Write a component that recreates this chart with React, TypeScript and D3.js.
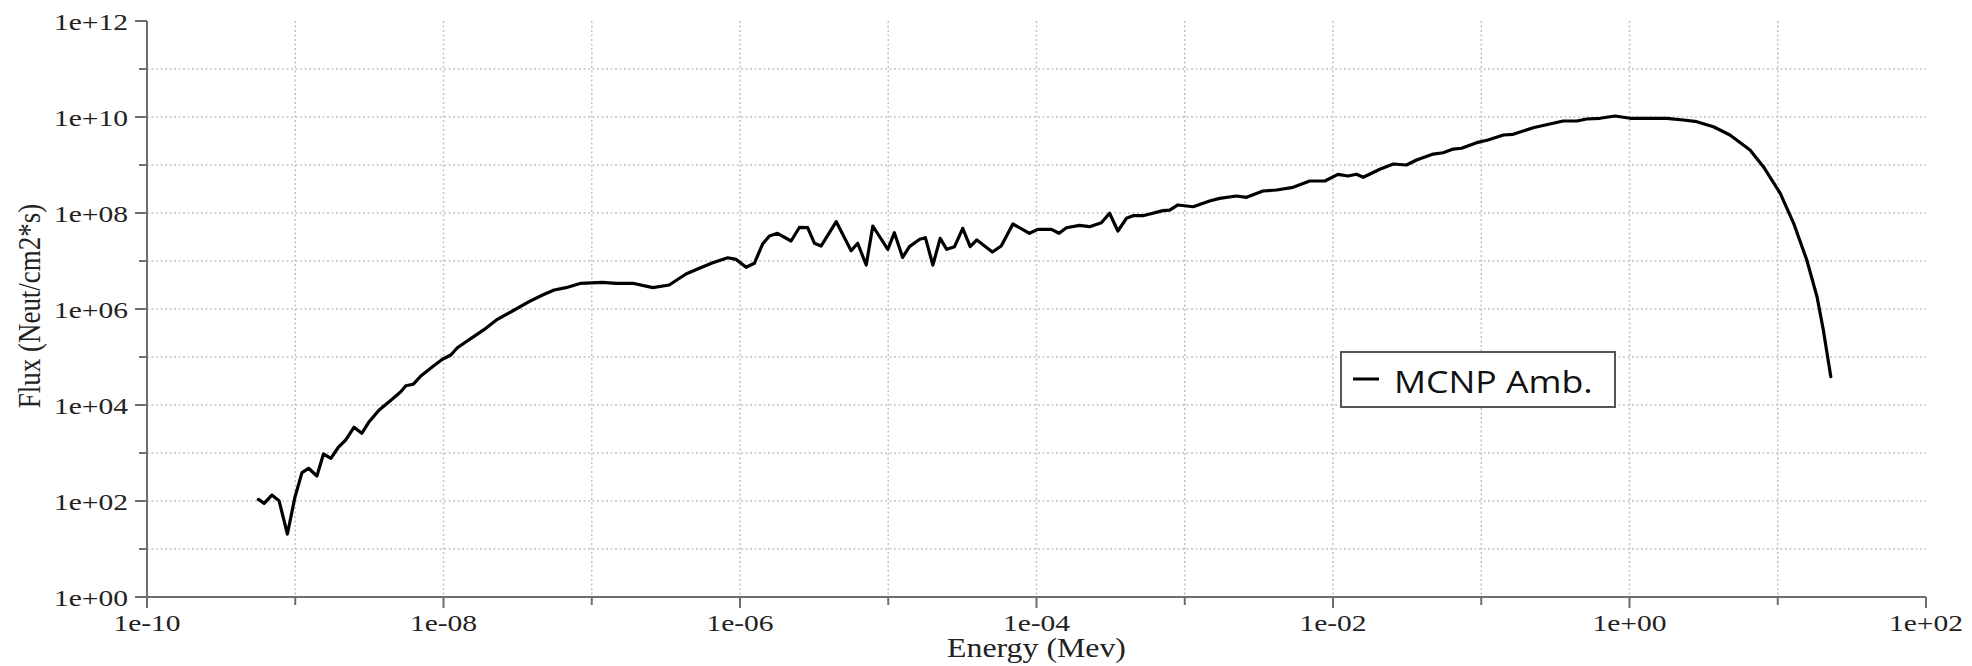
import React from "react";
import * as d3 from "d3";

// ---- data ----
const energy: number[] = [
  5.64e-10, 6.17e-10, 6.95e-10, 7.78e-10, 8.85e-10, 9.97e-10, 1.11e-9, 1.23e-9, 1.4e-9, 1.55e-9,
  1.74e-9, 1.95e-9, 2.19e-9, 2.49e-9, 2.81e-9, 3.15e-9, 3.68e-9, 4.3e-9, 5.15e-9, 5.57e-9,
  6.24e-9, 7.03e-9, 8.43e-9, 9.84e-9, 1.12e-8, 1.24e-8, 1.57e-8, 1.93e-8, 2.31e-8, 2.92e-8,
  3.78e-8, 4.66e-8, 5.58e-8, 6.7e-8, 8.45e-8, 1.18e-7, 1.46e-7, 1.89e-7, 2.58e-7, 3.33e-7, 4.32e-7,
  5.32e-7, 6.55e-7, 8.26e-7, 9.42e-7, 1.1e-6, 1.25e-6, 1.42e-6, 1.58e-6, 1.79e-6, 2.21e-6,
  2.52e-6, 2.86e-6, 3.18e-6, 3.52e-6, 4.46e-6, 5.62e-6, 6.22e-6, 7.1e-6, 7.87e-6, 9.93e-6,
  1.1e-5, 1.25e-5, 1.39e-5, 1.63e-5, 1.78e-5, 2.0e-5, 2.24e-5, 2.48e-5, 2.8e-5, 3.18e-5,
  3.57e-5, 3.96e-5, 5.04e-5, 5.78e-5, 6.93e-5, 8.97e-5, 1.02e-4, 1.26e-4, 1.42e-4, 1.59e-4,
  1.95e-4, 2.28e-4, 2.74e-4, 3.11e-4, 3.54e-4, 4.04e-4, 4.48e-4, 5.22e-4, 7.13e-4, 7.91e-4,
  8.99e-4, 1.14e-3,
  1.47e-3, 1.72e-3, 2.23e-3, 2.61e-3, 3.37e-3, 4.16e-3, 5.38e-3, 6.97e-3, 8.81e-3,
  1.08e-2, 1.26e-2, 1.44e-2, 1.6e-2, 2.07e-2, 2.55e-2, 3.13e-2, 3.66e-2, 4.74e-2, 5.53e-2,
  6.47e-2, 7.36e-2, 9.31e-2, 0.111, 0.141, 0.164, 0.224, 0.29, 0.357, 0.441, 0.514, 0.632,
  0.798, 1.01, 1.37,
  1.78, 2.31, 2.84, 3.68, 4.76, 6.5, 8.0, 10.4, 12.8, 15.7, 18.4, 20.3, 22.8,
];

const flux: number[] = [
  108, 89.5, 133, 101, 20.5, 123, 389, 480, 332, 953,
  776, 1315, 1866, 3430, 2570, 4490, 7870, 11700, 18900, 25200,
  27000, 40200, 62800, 89600, 1.1e5, 1.56e5, 2.57e5, 3.96e5, 6.1e5, 9.09e5,
  1.42e6, 1.96e6, 2.49e6, 2.78e6, 3.43e6, 3.6e6, 3.43e6, 3.43e6, 2.78e6, 3.16e6, 5.36e6,
  7.05e6, 9.22e6, 1.17e7, 1.08e7, 7.39e6, 8.95e6, 2.26e7, 3.32e7, 3.78e7, 2.61e7,
  5.04e7, 4.94e7, 2.34e7, 2.05e7, 6.59e7, 1.64e7, 2.34e7, 8.25e6, 5.36e7, 1.75e7,
  3.89e7, 1.19e7, 1.99e7, 2.83e7, 3.06e7, 8.25e6, 2.97e7, 1.75e7, 1.99e7, 4.8e7,
  1.99e7, 2.74e7, 1.54e7, 2.05e7, 5.9e7, 3.78e7, 4.57e7, 4.57e7, 3.78e7, 4.94e7,
  5.54e7, 5.19e7, 6.28e7, 9.86e7, 4.22e7, 7.76e7, 8.79e7, 8.79e7, 1.12e8, 1.15e8,
  1.47e8, 1.35e8,
  1.78e8, 2.02e8, 2.26e8, 2.12e8, 2.87e8, 3.01e8, 3.43e8, 4.64e8, 4.64e8,
  6.4e8, 5.9e8, 6.4e8, 5.54e8, 8.13e8, 1.05e9, 1.0e9, 1.27e9, 1.69e9, 1.8e9,
  2.15e9, 2.23e9, 2.92e9, 3.32e9, 4.22e9, 4.36e9, 5.98e9, 7.15e9, 8.25e9, 8.25e9, 9.08e9, 9.4e9,
  1.05e10, 9.4e9, 9.4e9,
  9.4e9, 8.66e9, 7.98e9, 6.28e9, 4.22e9, 2.05e9, 9.22e8, 2.57e8, 6.1e7, 1.05e7, 1.8e6, 3.65e5, 3.89e4,
];

const seriesName = "MCNP Amb.";
const xTickValues: number[] = [1e-10, 1e-8, 1e-6, 1e-4, 1e-2, 1e0, 1e2];
const xTickLabels: string[] = ["1e-10", "1e-08", "1e-06", "1e-04", "1e-02", "1e+00", "1e+02"];
const xMinorValues: number[] = [1e-9, 1e-7, 1e-5, 1e-3, 1e-1, 1e1];
const yTickValues: number[] = [1e0, 1e2, 1e4, 1e6, 1e8, 1e10, 1e12];
const yTickLabels: string[] = ["1e+00", "1e+02", "1e+04", "1e+06", "1e+08", "1e+10", "1e+12"];
const yMinorValues: number[] = [1e1, 1e3, 1e5, 1e7, 1e9, 1e11];
const xTitle = "Energy (Mev)";
const yTitle = "Flux (Neut/cm2*s)";

export default function App() {
  const W = 1972;
  const H = 666;
  const L = 147, R = 1926, T = 21, B = 597;
  const x = d3.scaleLog().domain([1e-10, 1e2]).range([L, R]);
  const y = d3.scaleLog().domain([1, 1e12]).range([B, T]);

  const pts = energy.map((e, i) => [e, flux[i]] as [number, number]);
  const line = d3
    .line<[number, number]>()
    .x((d) => x(d[0]))
    .y((d) => y(d[1]))
    .curve(d3.curveLinear);

  const axisColor = "#6e6e6e";
  const gridColor = "#c4c4c4";
  const serif = "'Liberation Serif', 'Times New Roman', serif";
  const tickFont = 24;
  const tickStretch = 1.23;

  const xGrid = [...xTickValues.slice(1, -1), ...xMinorValues];
  const yGrid = [...yTickValues.slice(1, -1), ...yMinorValues];

  return (
    <svg
      width={W}
      height={H}
      style={{ position: "absolute", left: 0, top: 0, background: "#fff" }}
    >
      <rect x={0} y={0} width={W} height={H} fill="#fff" />
      {/* grid */}
      <g stroke={gridColor} strokeWidth={1.5} strokeDasharray="2,2.5" fill="none">
        {xGrid.map((v, i) => (
          <line key={"gx" + i} x1={x(v)} x2={x(v)} y1={T} y2={B} />
        ))}
        {yGrid.map((v, i) => (
          <line key={"gy" + i} x1={L} x2={R} y1={y(v)} y2={y(v)} />
        ))}
      </g>

      {/* axes */}
      <g stroke={axisColor} strokeWidth={2} fill="none">
        <line x1={L} x2={L} y1={T} y2={B} />
        <line x1={L} x2={R} y1={B} y2={B} />
        {yTickValues.map((v, i) => (
          <line key={"yt" + i} x1={L - 12} x2={L} y1={y(v)} y2={y(v)} />
        ))}
        {yMinorValues.map((v, i) => (
          <line key={"ym" + i} x1={L - 8} x2={L} y1={y(v)} y2={y(v)} />
        ))}
        {xTickValues.map((v, i) => (
          <line key={"xt" + i} x1={x(v)} x2={x(v)} y1={B} y2={B + 11} />
        ))}
        {xMinorValues.map((v, i) => (
          <line key={"xm" + i} x1={x(v)} x2={x(v)} y1={B} y2={B + 8} />
        ))}
      </g>

      {/* tick labels */}
      <g fontFamily={serif} fontSize={tickFont} fill="#222">
        {yTickValues.map((v, i) => (
          <text
            key={"yl" + i}
            transform={`translate(${L - 19},${y(v) + 9}) scale(${tickStretch},1)`}
            textAnchor="end"
          >
            {yTickLabels[i]}
          </text>
        ))}
        {xTickValues.map((v, i) => (
          <text
            key={"xl" + i}
            transform={`translate(${x(v)},${B + 34}) scale(${tickStretch},1)`}
            textAnchor="middle"
          >
            {xTickLabels[i]}
          </text>
        ))}
      </g>

      {/* axis titles */}
      <text
        transform={`translate(${(L + R) / 2},657) scale(1.18,1)`}
        textAnchor="middle"
        fontFamily={serif}
        fontSize={27}
        fill="#222"
      >
        {xTitle}
      </text>
      <text
        transform={`translate(40,306) scale(1.2,1) rotate(-90)`}
        textAnchor="middle"
        fontFamily={serif}
        fontSize={27}
        fill="#222"
      >
        {yTitle}
      </text>

      {/* series */}
      <path
        d={line(pts) || ""}
        fill="none"
        stroke="#000"
        strokeWidth={3.2}
        strokeLinejoin="round"
        strokeLinecap="round"
      />

      {/* legend */}
      <g>
        <rect x={1341} y={352} width={274} height={55} fill="#fff" stroke="#555" strokeWidth={2} />
        <line x1={1353} x2={1379} y1={379} y2={379} stroke="#000" strokeWidth={3} />
        <text
          transform={`translate(1394,393) scale(1.15,1)`}
          fontFamily="'Open Sans', 'Noto Sans', sans-serif"
          fontSize={31}
          fill="#111"
        >
          {seriesName}
        </text>
      </g>
    </svg>
  );
}
